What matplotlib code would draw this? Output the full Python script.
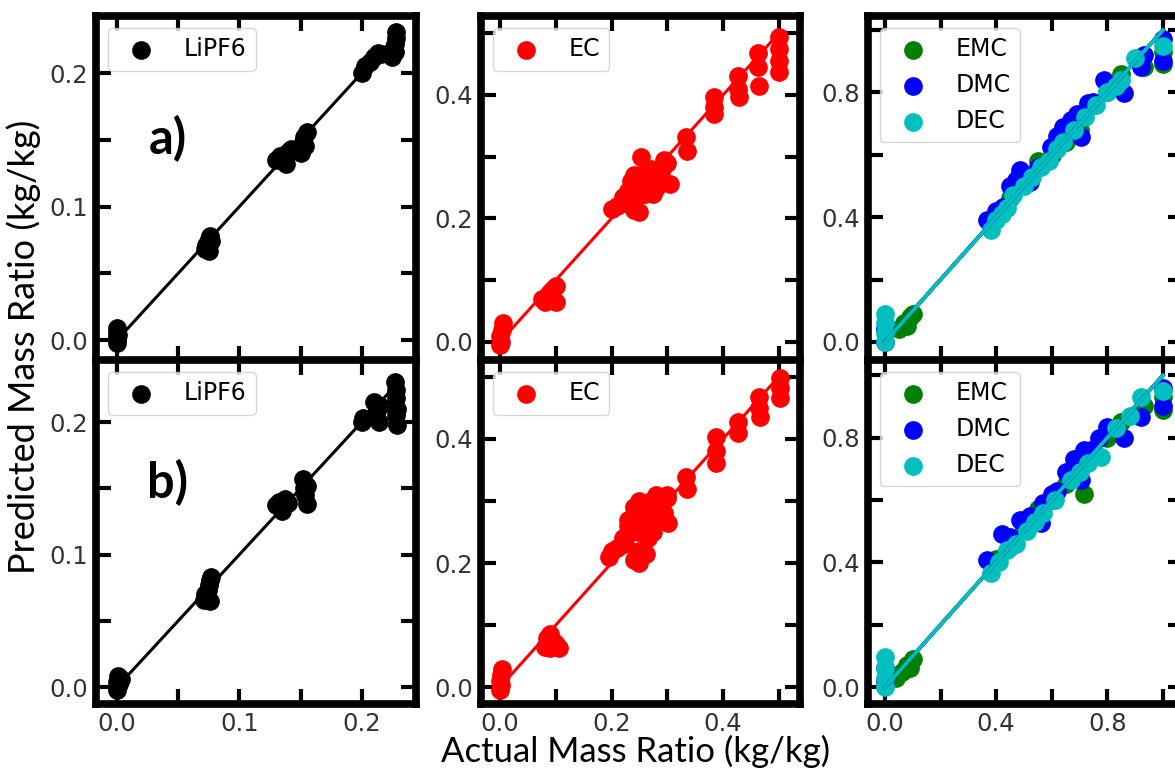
import numpy as np
import matplotlib
matplotlib.use("Agg")
import matplotlib.pyplot as plt
from matplotlib.ticker import MultipleLocator

# LiPF6 (panel a: model 1, panel b: model 2)
lipf6_act_a = [0, 0, 0, 0, 0, 0.001,
               0.072, 0.073, 0.074, 0.075, 0.076, 0.077, 0.075,
               0.13, 0.133, 0.136, 0.14, 0.142, 0.138,
               0.15, 0.152, 0.153, 0.155, 0.154,
               0.2, 0.203, 0.207, 0.21, 0.213, 0.216,
               0.225, 0.226, 0.227, 0.228, 0.228, 0.227]
lipf6_pred_a = [0.0, 0.003, 0.006, 0.009, -0.002, 0.004,
                0.068, 0.071, 0.073, 0.076, 0.078, 0.074, 0.067,
                0.135, 0.138, 0.134, 0.141, 0.143, 0.132,
                0.14, 0.148, 0.152, 0.156, 0.145,
                0.2, 0.205, 0.208, 0.212, 0.215, 0.214,
                0.212, 0.218, 0.222, 0.226, 0.231, 0.216]
lipf6_act_b = [0, 0, 0.001, 0.002, 0.003, 0.0,
               0.071, 0.072, 0.074, 0.075, 0.076, 0.077, 0.076,
               0.13, 0.132, 0.135, 0.137, 0.14,
               0.152, 0.153, 0.154, 0.155, 0.155,
               0.2, 0.201, 0.21, 0.212, 0.214, 0.215,
               0.227, 0.228, 0.228, 0.229, 0.229, 0.228]
lipf6_pred_b = [0.0, 0.004, 0.008, 0.002, 0.006, -0.002,
                0.066, 0.07, 0.073, 0.077, 0.081, 0.083, 0.065,
                0.137, 0.14, 0.133, 0.142, 0.139,
                0.157, 0.15, 0.145, 0.138, 0.152,
                0.2, 0.203, 0.215, 0.207, 0.2, 0.212,
                0.23, 0.224, 0.218, 0.21, 0.198, 0.205]
lipf6_fit = [0.0, 0.228]

# EC
ec_act_a = [0, 0, 0.003, 0.005, 0.002,
            0.075, 0.08, 0.085, 0.09, 0.095, 0.1, 0.1,
            0.2, 0.21, 0.22, 0.225, 0.23, 0.235, 0.24, 0.245, 0.25, 0.25,
            0.255, 0.26, 0.265, 0.27, 0.275, 0.28, 0.285, 0.29, 0.295, 0.3,
            0.305, 0.252, 0.24, 0.23, 0.26, 0.27, 0.28, 0.24, 0.29,
            0.333, 0.335, 0.383, 0.383, 0.383, 0.426, 0.426, 0.428,
            0.462, 0.462, 0.465, 0.5, 0.5, 0.5, 0.5]
ec_pred_a = [-0.005, 0.01, 0.02, 0.03, 0.0,
             0.07, 0.065, 0.075, 0.08, 0.085, 0.065, 0.09,
             0.215, 0.22, 0.235, 0.225, 0.245, 0.26, 0.23, 0.25, 0.27, 0.21,
             0.24, 0.255, 0.25, 0.265, 0.24, 0.27, 0.26, 0.28, 0.295, 0.29,
             0.255, 0.3, 0.214, 0.23, 0.24, 0.28, 0.25, 0.27, 0.26,
             0.332, 0.31, 0.397, 0.38, 0.37, 0.43, 0.41, 0.397,
             0.468, 0.445, 0.415, 0.494, 0.475, 0.455, 0.437]
ec_act_b = [0, 0, 0.002, 0.003, 0.001,
            0.08, 0.085, 0.09, 0.095, 0.1, 0.105, 0.09,
            0.196, 0.2, 0.21, 0.22, 0.225, 0.23, 0.235, 0.24, 0.245, 0.25, 0.25,
            0.255, 0.26, 0.265, 0.27, 0.275, 0.28, 0.285, 0.29, 0.295, 0.3, 0.302,
            0.24, 0.25, 0.262, 0.23, 0.24, 0.26, 0.27, 0.28, 0.25, 0.3,
            0.333, 0.335, 0.387, 0.387, 0.387, 0.426, 0.426,
            0.464, 0.464, 0.466, 0.503, 0.503, 0.503]
ec_pred_b = [-0.005, 0.01, 0.02, 0.03, 0.004,
             0.065, 0.08, 0.085, 0.075, 0.07, 0.063, 0.063,
             0.21, 0.22, 0.225, 0.24, 0.23, 0.26, 0.25, 0.28, 0.27, 0.3, 0.22,
             0.26, 0.285, 0.24, 0.275, 0.25, 0.29, 0.27, 0.3, 0.28, 0.305, 0.265,
             0.205, 0.2, 0.215, 0.27, 0.29, 0.27, 0.3, 0.31, 0.25, 0.31,
             0.339, 0.32, 0.403, 0.38, 0.361, 0.427, 0.41,
             0.468, 0.45, 0.435, 0.498, 0.482, 0.466]
ec_fit = [0.0, 0.5]

# solvents
emc_act_a = [0.05, 0.07, 0.09, 0.1, 0.08, 0.4, 0.45, 0.5, 0.55, 0.6, 0.65,
             0.7, 0.75, 0.8, 0.85, 0.93, 1.0, 1.0]
emc_pred_a = [0.04, 0.06, 0.08, 0.09, 0.05, 0.41, 0.46, 0.52, 0.58, 0.6, 0.64,
              0.68, 0.76, 0.8, 0.86, 0.88, 0.89, 0.93]
dmc_act_a = [0.0, 0.0, 0.368, 0.426, 0.45, 0.487, 0.523, 0.596, 0.668, 0.704,
             0.729, 0.787, 0.859, 0.92, 0.93, 1.0, 1.0,
             0.4, 0.47, 0.55, 0.62, 0.64, 0.69, 0.75]
dmc_pred_a = [0.0, 0.04, 0.39, 0.433, 0.5, 0.551, 0.513, 0.625, 0.711, 0.657,
              0.766, 0.84, 0.798, 0.881, 0.92, 0.97, 0.9,
              0.42, 0.52, 0.56, 0.66, 0.69, 0.73, 0.77]
dec_act_a = [0.0, 0.0, 0.0, 0.0, 0.38, 0.44, 0.46, 0.53, 0.59, 0.64, 0.76,
             0.83, 0.9, 1.0, 0.4, 0.42, 0.5, 0.56, 0.62, 0.68, 0.72, 0.8, 0.85]
dec_pred_a = [0.0, 0.03, 0.06, 0.09, 0.359, 0.43, 0.47, 0.53, 0.58, 0.64, 0.76,
              0.82, 0.91, 0.95, 0.39, 0.41, 0.5, 0.56, 0.62, 0.68, 0.72, 0.8, 0.84]
emc_act_b = [0.04, 0.06, 0.08, 0.1, 0.09, 0.4, 0.45, 0.5, 0.55, 0.6, 0.65,
             0.715, 0.75, 0.8, 0.85, 0.93, 1.0, 1.0]
emc_pred_b = [0.03, 0.05, 0.07, 0.09, 0.06, 0.41, 0.45, 0.51, 0.57, 0.6, 0.65,
              0.62, 0.76, 0.8, 0.85, 0.9, 0.89, 0.93]
dmc_act_b = [0.0, 0.0, 0.368, 0.42, 0.487, 0.56, 0.57, 0.62, 0.68, 0.715,
             0.705, 0.8, 0.86, 0.92, 1.0, 1.0,
             0.45, 0.52, 0.6, 0.65, 0.74, 0.77]
dmc_pred_b = [0.02, 0.06, 0.407, 0.49, 0.535, 0.525, 0.59, 0.63, 0.73, 0.76,
              0.663, 0.833, 0.8, 0.866, 0.96, 0.9,
              0.48, 0.55, 0.62, 0.69, 0.76, 0.8]
dec_act_b = [0.0, 0.0, 0.0, 0.0, 0.38, 0.44, 0.51, 0.57, 0.668, 0.776, 0.83,
             0.92, 1.0, 0.41, 0.47, 0.54, 0.61, 0.7, 0.73, 0.88]
dec_pred_b = [0.0, 0.03, 0.06, 0.096, 0.365, 0.44, 0.5, 0.56, 0.663, 0.737,
              0.83, 0.93, 0.95, 0.4, 0.46, 0.53, 0.6, 0.69, 0.72, 0.87]
solvent_fit = [0.0, 1.0]

plt.rcParams['font.family'] = 'sans-serif'
plt.rcParams['font.sans-serif'] = ['DejaVu Sans']
fig = plt.figure(figsize=(11.75, 7.7), dpi=100)

W, H = 1175.0, 770.0
cols = [(96, 416), (481, 800), (868, 1183)]
rows = [(16, 361), (360, 704)]


def make_ax(col, row):
    x0, x1 = cols[col]
    y0, y1 = rows[row]
    return fig.add_axes([x0 / W, 1 - y1 / H, (x1 - x0) / W, (y1 - y0) / H])


def style(ax, xmaj, xmin, ymaj, ymin, show_x):
    for sp in ax.spines.values():
        sp.set_linewidth(5.5)
    ax.xaxis.set_major_locator(MultipleLocator(xmaj))
    ax.xaxis.set_minor_locator(MultipleLocator(xmin))
    ax.yaxis.set_major_locator(MultipleLocator(ymaj))
    ax.yaxis.set_minor_locator(MultipleLocator(ymin))
    for which in ('major', 'minor'):
        ax.tick_params(which=which, direction='in', length=11, width=3,
                       top=True, right=True, color='black')
    ax.tick_params(labelsize=17.5, labelcolor='#333333', pad=6,
                   labelbottom=show_x)


def add_legend(ax):
    return ax.legend(loc='upper left', prop={'family': 'DejaVu Sans', 'size': 17})


s = 155
for row, (la, lp, ea, ep, sa) in enumerate([
        (lipf6_act_a, lipf6_pred_a, ec_act_a, ec_pred_a,
         [(emc_act_a, emc_pred_a), (dmc_act_a, dmc_pred_a), (dec_act_a, dec_pred_a)]),
        (lipf6_act_b, lipf6_pred_b, ec_act_b, ec_pred_b,
         [(emc_act_b, emc_pred_b), (dmc_act_b, dmc_pred_b), (dec_act_b, dec_pred_b)])]):
    show_x = row == 1

    ax1 = make_ax(0, row)
    ax1.scatter(la, lp, s=s, c='k', label='LiPF6', zorder=2)
    ax1.plot(lipf6_fit, lipf6_fit, c='k', lw=2.2, zorder=3)
    ax1.set_xlim(-0.0172, 0.2443)
    ax1.set_ylim(*((-0.0157, 0.2427) if row == 0 else (-0.0128, 0.2468)))
    style(ax1, 0.1, 0.05, 0.1, 0.05, show_x)
    add_legend(ax1)
    ax1.text(0.225, 0.645, 'a)' if row == 0 else 'b)', transform=ax1.transAxes,
             fontsize=35, fontweight='bold', family='Lato',
             ha='center', va='center')

    ax2 = make_ax(1, row)
    ax2.scatter(ea, ep, s=s, c='r', label='EC', zorder=2)
    ax2.plot(ec_fit, ec_fit, c='r', lw=2.2, zorder=3)
    ax2.set_xlim(-0.034, 0.538)
    ax2.set_ylim(*((-0.031, 0.528) if row == 0 else (-0.027, 0.527)))
    style(ax2, 0.2, 0.1, 0.2, 0.1, show_x)
    add_legend(ax2)

    ax3 = make_ax(2, row)
    for (xa, ya), name, col in zip(sa, ['EMC', 'DMC', 'DEC'], ['g', 'b', 'c']):
        ax3.scatter(xa, ya, s=s, c=col, label=name, zorder=2)
    for col in ['g', 'b', 'c']:
        ax3.plot(solvent_fit, solvent_fit, c=col, lw=2.6, zorder=3)
    ax3.set_xlim(-0.061, 1.072)
    ax3.set_ylim(*((-0.061, 1.045) if row == 0 else (-0.054, 1.049)))
    style(ax3, 0.4, 0.2, 0.4, 0.2, show_x)
    add_legend(ax3)

fig.text(24 / W, 1 - 347 / H, 'Predicted Mass Ratio (kg/kg)', rotation=90,
         ha='center', va='center', fontsize=26, family='Lato')
fig.text(636 / W, 1 - 751 / H, 'Actual Mass Ratio (kg/kg)',
         ha='center', va='center', fontsize=25, family='Lato')

fig.savefig('out.png', dpi=100)
